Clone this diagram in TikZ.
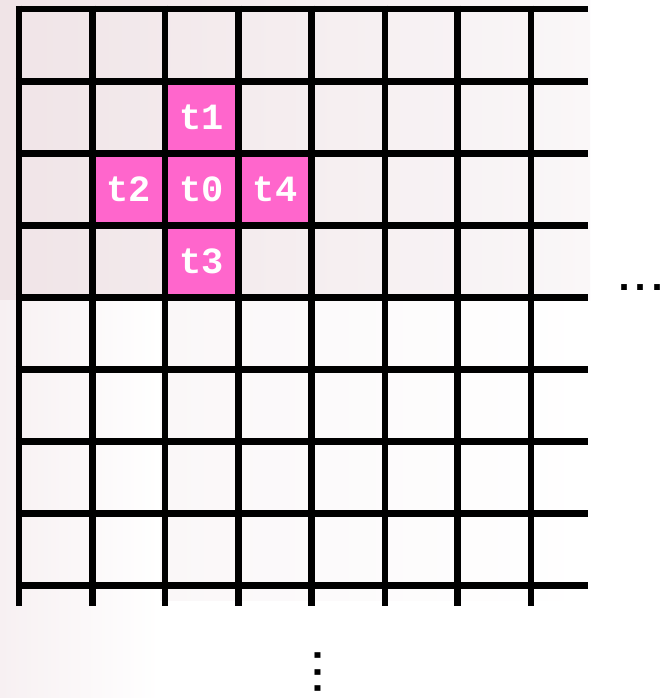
\documentclass[tikz,border=0pt]{standalone}
\usepackage{fontspec}
\newfontfamily\monob[BoldFont={Liberation Mono Bold}]{Liberation Mono}
\newcommand{\tightdots}{\kern-9pt.\kern-7.5pt.\kern-7.5pt.\kern-9pt}
\begin{document}
\begin{tikzpicture}[x=1pt,y=-1pt,
  gridline/.style={line width=6.5pt,black},
  lbl/.style={text=white,font=\monob\bfseries\fontsize{37}{37}\selectfont,inner sep=0pt,anchor=center},
  dotstxt/.style={font=\monob\bfseries\fontsize{40}{40}\selectfont,inner sep=0pt,anchor=base}]
\definecolor{hotpink}{RGB}{255,102,204}
\definecolor{bgpink}{RGB}{240,228,231}
\definecolor{bgfade}{RGB}{250,247,248}
\definecolor{bgstrip}{RGB}{247,240,242}
\useasboundingbox (0,0) rectangle (669,698);
\fill[white] (0,0) rectangle (669,698);
% faint background photo
\shade[left color=bgpink,right color=bgfade] (0,0) rectangle (590,300);
\shade[left color=bgstrip,right color=white] (0,300) rectangle (160,698);
\shade[left color=bgfade,right color=white] (160,300) rectangle (590,600);
% highlighted cells
\fill[hotpink] (165,81.3) rectangle (238.3,153.5);
\fill[hotpink] (92.3,153.5) rectangle (311.7,225.5);
\fill[hotpink] (165,225.5) rectangle (238.3,297.5);
% grid
\foreach \y in {9,81.3,153.5,225.5,297.5,369.5,441.7,513.7,585.7}
  \draw[gridline] (15.75,\y) -- (588,\y);
\foreach \x in {19,92.3,165,238.3,311.7,385,457.7,531}
  \draw[gridline] (\x,5.75) -- (\x,605.7);
% labels
\node[lbl] (t1) at (201.7,117.4) {t1};
\node[lbl] (t2) at (128.6,189.5) {t2};
\node[lbl] (t0) at (201.7,189.5) {t0};
\node[lbl] (t4) at (275,189.5) {t4};
\node[lbl] (t3) at (201.7,261.5) {t3};
\node[dotstxt] (hdots) at (640.5,290.5) {\tightdots};
\node[dotstxt,rotate=-90] (vdots) at (314.5,672) {\tightdots};
\end{tikzpicture}
\end{document}
